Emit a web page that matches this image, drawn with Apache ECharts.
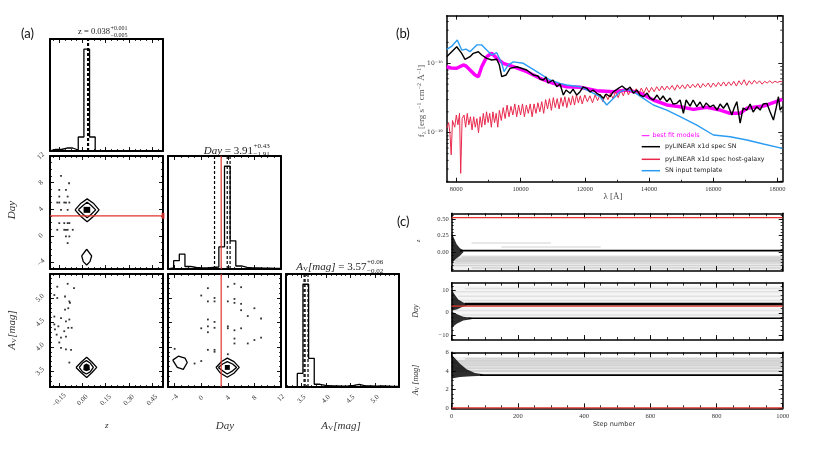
<!DOCTYPE html>
<html><head><meta charset="utf-8">
<script src="https://cdn.jsdelivr.net/npm/echarts@6/dist/echarts.min.js"></script>
<style>html,body{margin:0;padding:0;background:#fff}#c{width:814px;height:458px}</style>
</head><body><div id="c"></div>
<script>
// ================= DATA =================
// ---- corner plot (a) ----
const zRange = [-0.21, 0.52];
const dayRange = [-5, 12];
const avRange = [3.18, 5.49];
const zTickVals = [-0.15, 0.00, 0.15, 0.30, 0.45];
const dayTickVals = [-4, 0, 4, 8, 12];
const avTickVals = [3.5, 4.0, 4.5, 5.0];
const truthZ = 0.52;
const truthDay = 3;
const zHist = [1.5,1.5,3,3,1,14,102,14,0.4,0.3,0.3,0.3,0.3,0.3,0.3,0.3,0.3,0.3,0.3,0.3];
const dayHist = [1,8.3,14.7,2.5,1.5,1,1,1.5,2,22,102,28,3,1.5,1,1,0.8,0.8,0.5,0.5];
const avHist = [0.3,0.5,13.4,101.7,28.4,2.7,1.5,1,1,0.8,1,1.5,2.5,1.2,1,0.8,1,0.8,0.6,0.5];
const zQuantiles = [0.033, 0.038, 0.039];
const dayQuantiles = [2.00, 3.91, 4.34];
const avQuantiles = [3.55, 3.57, 3.63];
const zDayPoints = [[-0.139,9.0],[-0.087,7.9],[-0.15,6.9],[-0.107,6.9],[-0.15,5.9],[-0.096,5.9],[-0.163,5.0],[-0.15,5.0],[-0.118,5.0],[-0.107,5.0],[-0.085,5.0],[-0.139,3.9],[-0.096,3.9],[-0.15,1.9],[-0.118,1.9],[-0.096,1.9],[-0.085,1.9],[-0.163,0.9],[-0.118,0.9],[-0.107,0.9],[-0.096,0.9],[-0.063,0.9],[-0.107,-0.1],[-0.085,-0.1],[-0.096,-1.1]];
const zDayOuter = [[-0.048,3.9],[-0.01,4.9],[0.03,5.55],[0.07,4.9],[0.107,3.9],[0.07,2.9],[0.03,2.1],[-0.01,2.9],[-0.048,3.9]];
const zDayInner = [[-0.027,3.9],[0.005,4.6],[0.03,5.05],[0.055,4.6],[0.085,3.9],[0.055,3.2],[0.03,2.7],[0.005,3.2],[-0.027,3.9]];
const zDayCore = [[0.007,4.35],[0.05,4.35],[0.05,3.45],[0.007,3.45]];
const zDayLow = [[0.027,-2.03],[0.059,-3.04],[0.048,-3.89],[0.027,-4.39],[0.005,-3.89],[-0.005,-3.04],[0.027,-2.03]];
const zAvPoints = [[-0.163,5.23],[-0.096,5.29],[-0.055,5.20],[-0.182,5.06],[-0.113,5.03],[-0.085,4.93],[-0.081,4.90],[-0.163,5.0],[-0.092,4.79],[-0.113,4.76],[-0.182,4.62],[-0.139,4.59],[-0.107,4.52],[-0.085,4.56],[-0.182,4.46],[-0.156,4.42],[-0.118,4.32],[-0.092,4.39],[-0.07,4.39],[-0.167,4.25],[-0.139,4.19],[-0.107,4.21],[-0.15,4.09],[-0.139,3.98],[-0.107,3.95],[-0.074,3.94],[-0.085,3.68],[-0.178,4.36]];
const zAvOuter = [[-0.042,3.58],[-0.008,3.69],[0.027,3.79],[0.06,3.69],[0.092,3.58],[0.06,3.47],[0.027,3.375],[-0.008,3.47],[-0.042,3.58]];
const zAvInner = [[-0.021,3.58],[0.0,3.67],[0.025,3.72],[0.05,3.67],[0.07,3.58],[0.05,3.49],[0.025,3.445],[0.0,3.49],[-0.021,3.58]];
const zAvCore = [[0.008,3.63],[0.025,3.66],[0.045,3.63],[0.048,3.53],[0.025,3.50],[0.005,3.53]];
const dayAvPoints = [[1,5.20],[4,5.23],[5,5.29],[6,5.22],[0,5.05],[1,4.93],[2,5.0],[2,4.93],[4,4.93],[5,4.98],[5,4.90],[6,4.88],[6,4.75],[8,4.79],[9,4.58],[7,4.63],[1,4.56],[2,4.51],[1,4.42],[2,4.39],[1,4.30],[0,4.38],[4,4.42],[4,4.38],[5,4.34],[6,4.38],[5,4.17],[5,4.07],[7,4.07],[8,4.14],[9,4.19],[1,3.94],[2,3.94],[2,3.90],[4,3.85],[-1,3.66],[0,3.71],[-4,3.96]];
const dayAvOuter = [[2.22,3.58],[3.07,3.70],[3.92,3.77],[4.92,3.70],[5.72,3.58],[4.92,3.46],[3.92,3.38],[2.92,3.46],[2.22,3.58]];
const dayAvInner = [[2.57,3.58],[3.22,3.65],[3.92,3.70],[4.72,3.65],[5.32,3.58],[4.72,3.51],[3.92,3.445],[3.22,3.51],[2.57,3.58]];
const dayAvCore = [[3.55,3.63],[4.3,3.63],[4.3,3.53],[3.55,3.53]];
const dayAvLeft = [[-4.29,3.73],[-3.45,3.81],[-2.44,3.77],[-2.10,3.68],[-2.70,3.54],[-3.60,3.58],[-4.29,3.73]];

// ---- spectrum (b) flux in units of 1e-18 erg/s/cm2/A ----
const specXRange = [7700, 18150];
const specYRange = [0.0197, 4.85];
const specXTicks = [8000, 10000, 12000, 14000, 16000, 18000];
const specYMinor = [0.02,0.03,0.04,0.05,0.06,0.07,0.08,0.09,0.2,0.3,0.4,0.5,0.6,0.7,0.8,0.9,2,3,4];
const templateSpec = [[7700,1.59],[7850,1.75],[8030,2.17],[8167,1.55],[8300,1.60],[8426,1.47],[8635,1.84],[8790,1.84],[8946,1.55],[9102,1.32],[9258,1.42],[9413,1.00],[9485,0.76],[9619,0.95],[9775,1.05],[10086,1.00],[10504,0.76],[10918,0.575],[11229,0.515],[11438,0.487],[11852,0.46],[12164,0.39],[12475,0.33],[12684,0.251],[12840,0.296],[13098,0.39],[13307,0.422],[13513,0.39],[13824,0.313],[14136,0.251],[14553,0.212],[14968,0.17],[15488,0.129],[16005,0.0927],[16525,0.0876],[17045,0.0785],[17562,0.0687],[18154,0.0596]];
const bestFitSpec = [[7700,0.893],[7834,0.856],[8012,0.847],[8217,0.945],[8301,0.914],[8426,0.801],[8582,0.678],[8685,0.641],[8790,0.893],[8946,1.245],[9102,1.393],[9258,1.18],[9463,1.0],[9775,0.893],[10192,0.757],[10606,0.608],[11021,0.515],[11438,0.46],[11852,0.451],[12372,0.403],[12890,0.39],[13307,0.412],[13722,0.373],[14136,0.296],[14553,0.251],[14968,0.237],[15382,0.217],[15799,0.232],[16214,0.212],[16525,0.19],[16837,0.19],[17045,0.225],[17562,0.242],[18154,0.303]];
const snSpec = [[7700,1.245],[8012,1.734],[8167,1.393],[8270,1.142],[8426,1.245],[8529,1.393],[8685,1.469],[8790,1.317],[8946,1.18],[9102,1.116],[9258,1.142],[9339,0.945],[9413,0.641],[9547,0.678],[9672,0.847],[9881,0.893],[10192,0.801],[10398,0.678],[10544,0.656],[10606,0.594],[10709,0.575],[10793,0.635],[10856,0.52],[10918,0.525],[11011,0.575],[11127,0.46],[11229,0.503],[11332,0.349],[11416,0.412],[11541,0.37],[11634,0.426],[11750,0.349],[11852,0.39],[11946,0.456],[12061,0.436],[12164,0.386],[12257,0.412],[12372,0.37],[12475,0.349],[12578,0.313],[12662,0.361],[12787,0.33],[12880,0.386],[13045,0.436],[13161,0.471],[13307,0.412],[13410,0.456],[13513,0.37],[13628,0.412],[13722,0.349],[13824,0.33],[13940,0.373],[14033,0.316],[14136,0.296],[14251,0.349],[14345,0.296],[14438,0.338],[14553,0.28],[14656,0.316],[14749,0.259],[14865,0.265],[14968,0.296],[15071,0.19],[15155,0.296],[15280,0.242],[15373,0.296],[15488,0.237],[15591,0.277],[15685,0.227],[15778,0.268],[15902,0.235],[16005,0.251],[16121,0.212],[16214,0.259],[16317,0.225],[16432,0.268],[16578,0.18],[16650,0.227],[16734,0.28],[16837,0.137],[16930,0.227],[17045,0.212],[17148,0.259],[17242,0.199],[17357,0.237],[17460,0.212],[17553,0.259],[17668,0.265],[17771,0.199],[17874,0.152],[17958,0.227],[18030,0.33],[18082,0.212],[18154,0.237]];
const hostSpec = [[7700,0.116],[7760,0.14],[7800,0.10],[7840,0.048],[7880,0.15],[7950,0.12],[8000,0.18],[8050,0.13],[8100,0.19],[8136,0.026],[8180,0.16],[8240,0.18],[8290,0.12],[8340,0.19],[8390,0.13],[8440,0.17],[8490,0.11],[8540,0.17],[8590,0.12],[8640,0.16],[8690,0.10],[8740,0.17],[8790,0.12],[8840,0.19],[8890,0.13],[8940,0.20],[8990,0.14],[9040,0.19],[9090,0.12],[9140,0.20],[9190,0.14],[9240,0.19],[9290,0.12],[9340,0.21],[9400,0.15],[9460,0.23],[9520,0.16],[9580,0.25],[9640,0.17],[9700,0.24],[9760,0.18],[9820,0.26],[9880,0.17],[9940,0.25],[10000,0.18],[10060,0.26],[10120,0.17],[10180,0.25],[10240,0.19],[10300,0.26],[10360,0.17],[10420,0.26],[10480,0.19],[10540,0.27],[10600,0.20],[10660,0.28],[10720,0.19],[10780,0.30],[10840,0.22],[10900,0.31],[10960,0.21],[11020,0.32],[11080,0.23],[11140,0.31],[11200,0.22],[11260,0.32],[11320,0.24],[11380,0.33],[11440,0.23],[11500,0.32],[11560,0.25],[11620,0.34],[11680,0.25],[11740,0.35],[11800,0.27],[11860,0.34],[11920,0.26],[12000,0.35],[12080,0.28],[12160,0.34],[12240,0.27],[12320,0.35],[12400,0.29],[12480,0.36],[12560,0.28],[12640,0.36],[12720,0.30],[12800,0.37],[12880,0.31],[12960,0.39],[13040,0.32],[13120,0.41],[13200,0.34],[13280,0.43],[13360,0.35],[13440,0.44],[13520,0.37],[13600,0.43],[13680,0.36],[13760,0.44],[13840,0.37],[13920,0.45],[14000,0.38],[14080,0.45],[14160,0.39],[14240,0.46],[14320,0.40],[14400,0.47],[14480,0.41],[14560,0.47],[14640,0.42],[14720,0.48],[14800,0.41],[14880,0.49],[14960,0.43],[15040,0.49],[15120,0.43],[15200,0.50],[15280,0.44],[15360,0.50],[15440,0.45],[15520,0.51],[15600,0.44],[15680,0.51],[15760,0.46],[15840,0.52],[15920,0.45],[16000,0.52],[16080,0.46],[16160,0.53],[16240,0.47],[16320,0.54],[16400,0.47],[16480,0.54],[16560,0.48],[16640,0.55],[16720,0.47],[16800,0.56],[16880,0.49],[16960,0.58],[17040,0.48],[17120,0.56],[17200,0.50],[17280,0.57],[17360,0.51],[17440,0.56],[17520,0.50],[17600,0.55],[17680,0.52],[17760,0.56],[17840,0.52],[17920,0.55],[18000,0.53],[18080,0.55],[18150,0.54]];
const legendNames = ['best fit models', 'pyLINEAR x1d spec SN', 'pyLINEAR x1d spec host-galaxy', 'SN input template'];

// ---- MCMC traces (c) ----
const stepRange = [0, 1000];
const stepTicks = [0, 200, 400, 600, 800, 1000];
const zTraceRange = [-0.281, 0.586];
const zTraceTicks = [0.00, 0.25, 0.50];
const dayTraceRange = [-12.3, 13.6];
const dayTraceTicks = [-10, 0, 10];
const avTraceRange = [-0.05, 6.05];
const avTraceTicks = [0, 2, 4, 6];
const truthAv = 0;
const zBurst = [[0,0.29],[8,0.2],[15,0.12],[25,0.06],[35,0.03],[35,0.0],[25,-0.05],[12,-0.1],[0,-0.17]];
const dayBurstUp = [[0,10.4],[10,8],[20,6],[35,4.6],[45,4.2],[45,3.4],[30,2.5],[15,1.5],[0,1]];
const dayBurstLow = [[0,0.5],[15,-0.5],[35,-1.8],[60,-2.2],[60,-2.9],[35,-3.5],[15,-5],[0,-6.8]];
const avBurst = [[0,5.75],[10,5.4],[25,4.8],[45,4.2],[70,3.8],[95,3.65],[95,3.5],[60,3.45],[25,3.35],[0,3.2]];
const zBand = [[0,-0.04],[1000,-0.04],[1000,-0.281],[0,-0.281]];
const dayBand = [[0,12.2],[1000,12.2],[1000,-2.5],[0,-2.5]];
const avBand = [[0,5.55],[1000,5.55],[1000,3.62],[0,3.62]];
const zWalkers = [[30,1000,-0.07],[0,1000,-0.095],[0,1000,-0.115],[10,1000,-0.135],[0,1000,-0.16],[0,1000,-0.2],[60,1000,-0.235],[60,300,0.14],[150,450,0.08]];
const dayWalkers = [[0,1000,5.5],[20,1000,7.5],[0,1000,9.5],[40,1000,11.0],[0,1000,1.0],[30,1000,-1.0]];
const avWalkers = [[0,1000,4.0],[0,1000,4.3],[20,1000,4.6],[0,1000,4.85],[0,1000,5.1],[40,1000,5.35]];
const zConverged = [[25,0.025],[1000,0.025]];
const dayConverged = [[40,3.9],[1000,3.9]];
const dayLowChain = [[50,-2.5],[1000,-2.5]];
const avConverged = [[85,3.57],[1000,3.57]];

// ================= BUILD =================
const SERIF = "'Liberation Serif','DejaVu Serif',serif";
const DSERIF = "'DejaVu Serif',serif";
const SANS = "'DejaVu Sans',sans-serif";
const RED = '#e3332c';
const grids = [], xAxes = [], yAxes = [], series = [], graphics = [];
const minus = s => String(s).replace('-', '\u2212');
function ticksBetween(r, step) {
  const out = []; const k0 = Math.ceil(r[0] / step - 1e-9);
  for (let k = k0; k * step <= r[1] + 1e-9; k++) out.push(+(k * step).toFixed(6));
  return out;
}
function axisSet(dim, gi, pos, type, r, o) {
  const arr = dim === 'x' ? xAxes : yAxes;
  const idx = arr.length;
  const base = { gridIndex: gi, position: pos, type: type, min: r[0], max: r[1], splitLine: { show: false }, silent: true };
  if (type === 'log') base.logBase = 10;
  const tick = { show: !!(o.major || o.defaultTicks), inside: true, length: o.len || 4, lineStyle: { color: '#000', width: 0.9 } };
  if (o.major) tick.customValues = o.major;
  arr.push(Object.assign({}, base, {
    axisLine: { show: true, onZero: false, lineStyle: { color: '#000', width: o.lw || 1.5 } },
    axisTick: tick,
    axisLabel: o.labels ? Object.assign({ show: true }, o.labels) : { show: false }
  }));
  if (o.minor) arr.push(Object.assign({}, base, {
    axisLine: { show: false, onZero: false },
    axisTick: { show: true, inside: true, length: o.minLen || 2, customValues: o.minor, lineStyle: { color: '#000', width: 0.8 } },
    axisLabel: { show: false }
  }));
  return idx;
}
function panel(rect, xr, yr, xo, yo, lw, xType, yType) {
  const gi = grids.length;
  grids.push({ left: rect[0], top: rect[1], width: rect[2], height: rect[3], containLabel: false });
  const xi = axisSet('x', gi, 'bottom', xType || 'value', xr, Object.assign({ lw }, xo));
  axisSet('x', gi, 'top', xType || 'value', xr, Object.assign({ lw }, xo, { labels: null }));
  const yi = axisSet('y', gi, 'left', yType || 'value', yr, Object.assign({ lw }, yo));
  axisSet('y', gi, 'right', yType || 'value', yr, Object.assign({ lw }, yo, { labels: null }));
  return { xi, yi };
}
function line(p, data, color, width, extra) {
  series.push(Object.assign({ type: 'line', xAxisIndex: p.xi, yAxisIndex: p.yi, data, symbol: 'none', silent: true,
    lineStyle: { color, width }, animation: false, clip: true }, extra || {}));
}
function poly(p, pts, fill, z) {
  series.push({ type: 'custom', xAxisIndex: p.xi, yAxisIndex: p.yi, data: pts, silent: true, clip: true, z: z || 2,
    renderItem: (params, api) => params.dataIndex !== 0 ? null :
      { type: 'polygon', shape: { points: pts.map(q => api.coord(q)) }, style: { fill } } });
}
function scatter(p, pts, color, size) {
  series.push({ type: 'scatter', xAxisIndex: p.xi, yAxisIndex: p.yi, data: pts, symbol: 'rect', symbolSize: size || 1.8,
    itemStyle: { color }, silent: true, animation: false });
}
function hist(p, counts, r) {
  const n = counts.length, w = (r[1] - r[0]) / n;
  const d = [[r[0], 0]];
  counts.forEach((c, i) => d.push([r[0] + i * w, c]));
  d.push([r[1], counts[n - 1]], [r[1], 0]);
  line(p, d, '#000', 1.3, { step: 'end' });
}
function segs(p, data, color, width) {
  series.push({ type: 'custom', xAxisIndex: p.xi, yAxisIndex: p.yi, data, silent: true, clip: true,
    renderItem: (params, api) => {
      const a = api.coord([api.value(0), api.value(2)]), b = api.coord([api.value(1), api.value(2)]);
      return { type: 'line', shape: { x1: a[0], y1: a[1], x2: b[0], y2: b[1] }, style: { stroke: color, lineWidth: width } };
    } });
}
function txt(x, y, text, style, el) {
  graphics.push(Object.assign({ type: 'text', x, y, silent: true,
    style: Object.assign({ text, fill: '#222', fontFamily: SERIF, fontSize: 9, align: 'center', verticalAlign: 'middle' }, style || {}) }, el || {}));
}

// ---- corner ----
const cLab = (vals, fmt, m) => ({ customValues: vals, formatter: v => minus(fmt(v)), fontFamily: SERIF, fontSize: 7, color: '#333',
  rotate: 45, align: 'center', verticalAlign: 'middle', margin: m });
const zMinor = ticksBetween(zRange, 0.0375), dayMinor = ticksBetween(dayRange, 1), avMinor = ticksBetween(avRange, 0.1);
const C0 = 50, C1 = 168, C2 = 286, CW = 113;
const R0 = 39, R1 = 156, R2 = 274, RH = 113;
const zH = Math.max(...zHist) * 1.1, dH = Math.max(...dayHist) * 1.1, aH = Math.max(...avHist) * 1.1;
const pZ = panel([C0, R0, CW, RH - 1], zRange, [0, zH], { major: zTickVals, minor: zMinor }, {}, 2);
const pZD = panel([C0, R1, CW, RH], zRange, dayRange, { major: zTickVals, minor: zMinor }, { major: dayTickVals, minor: dayMinor, labels: cLab(dayTickVals, v => v.toFixed(0), 9) }, 2);
const pD = panel([C1, R1, CW, RH], dayRange, [0, dH], { major: dayTickVals, minor: dayMinor }, {}, 2);
const pZA = panel([C0, R2, CW, RH], zRange, avRange, { major: zTickVals, minor: zMinor, labels: cLab(zTickVals, v => v.toFixed(2), 13) }, { major: avTickVals, minor: avMinor, labels: cLab(avTickVals, v => v.toFixed(1), 10) }, 2);
const pDA = panel([C1, R2, CW, RH], dayRange, avRange, { major: dayTickVals, minor: dayMinor, labels: cLab(dayTickVals, v => v.toFixed(0), 11) }, { major: avTickVals, minor: avMinor }, 2);
const pA = panel([C2, R2, CW, RH], avRange, [0, aH], { major: avTickVals, minor: avMinor, labels: cLab(avTickVals, v => v.toFixed(1), 12) }, {}, 2);

hist(pZ, zHist, zRange);
zQuantiles.forEach(q => line(pZ, [[q, 0], [q, zH]], '#000', 1.2, { lineStyle: { color: '#000', width: 1.2, type: [3, 2] } }));
hist(pD, dayHist, dayRange);
dayQuantiles.forEach(q => line(pD, [[q, 0], [q, dH]], '#000', 1.2, { lineStyle: { color: '#000', width: 1.2, type: [3, 2] } }));
line(pD, [[truthDay, 0], [truthDay, dH]], RED, 1.2);
hist(pA, avHist, avRange);
avQuantiles.forEach(q => line(pA, [[q, 0], [q, aH]], '#000', 1.2, { lineStyle: { color: '#000', width: 1.2, type: [3, 2] } }));

scatter(pZD, zDayPoints, '#000');
[zDayOuter, zDayInner, zDayLow].forEach(c => line(pZD, c, '#000', 1.3));
poly(pZD, zDayCore, '#000');
line(pZD, [[zRange[0], truthDay], [truthZ, truthDay]], RED, 1.2);
series.push({ type: 'scatter', xAxisIndex: pZD.xi, yAxisIndex: pZD.yi, data: [[truthZ, truthDay]], symbol: 'rect', symbolSize: [3, 6], itemStyle: { color: RED }, silent: true, clip: false });

scatter(pZA, zAvPoints, '#000');
[zAvOuter, zAvInner].forEach(c => line(pZA, c, '#000', 1.3));
poly(pZA, zAvCore, '#000');

scatter(pDA, dayAvPoints, '#000');
[dayAvOuter, dayAvInner, dayAvLeft].forEach(c => line(pDA, c, '#000', 1.3));
poly(pDA, dayAvCore, '#000');
line(pDA, [[truthDay, avRange[0]], [truthDay, avRange[1]]], RED, 1.2);

// ---- spectrum ----
const sLab = { fontFamily: SERIF, fontSize: 6.5, color: '#333', formatter: v => String(v) };
const pS = panel([446.7, 15.7, 335.6, 166], specXRange, specYRange,
  { major: specXTicks, minor: ticksBetween(specXRange, 1000), labels: Object.assign({ customValues: specXTicks, margin: 4 }, sLab) },
  { defaultTicks: true, labels: { fontFamily: DSERIF, fontSize: 6, color: '#333', margin: 4, showMinLabel: false, showMaxLabel: false,
      formatter: v => Math.abs(Math.log10(v)) < 0.01 ? '10\u207B\u00B9\u2078' : (Math.abs(Math.log10(v) + 1) < 0.01 ? '10\u207B\u00B9\u2079' : '') } },
  1.5, 'value', 'log');
series.push({ type: 'custom', xAxisIndex: pS.xi, yAxisIndex: pS.yi, data: specYMinor.map(v => [v]), silent: true, clip: true,
  renderItem: (params, api) => {
    const a = api.coord([specXRange[0], api.value(0)]), b = api.coord([specXRange[1], api.value(0)]);
    return { type: 'group', children: [
      { type: 'line', shape: { x1: a[0], y1: a[1], x2: a[0] + 2, y2: a[1] }, style: { stroke: '#000', lineWidth: 0.8 } },
      { type: 'line', shape: { x1: b[0] - 2, y1: b[1], x2: b[0], y2: b[1] }, style: { stroke: '#000', lineWidth: 0.8 } }] };
  } });
const MAG = '#ff00ff', HOST = '#e8294d', BLUE = '#2b9cf2';
line(pS, bestFitSpec, MAG, 3.5);
line(pS, hostSpec, HOST, 1);
line(pS, templateSpec, BLUE, 1.4);
line(pS, snSpec, '#000', 1.4);

// ---- traces ----
const TL = 451.7, TW = 331;
function tracePanel(rect, yr, ticks, minorStep, fmt, lab) {
  const gi = grids.length;
  grids.push({ left: rect[0], top: rect[1], width: rect[2], height: rect[3], containLabel: false });
  const xo = { major: stepTicks, minor: ticksBetween(stepRange, 50), len: 5, minLen: 3,
    labels: lab ? Object.assign({ customValues: stepTicks, margin: 4 }, sLab) : null };
  const xi = axisSet('x', gi, 'bottom', 'value', stepRange, Object.assign({ lw: 1.5 }, xo));
  axisSet('x', gi, 'top', 'value', stepRange, Object.assign({ lw: 1.5 }, xo, { labels: null }));
  const minor = ticksBetween(yr, minorStep);
  const yi = axisSet('y', gi, 'left', 'value', yr, { lw: 1.5, major: ticks, minor, len: 4, minLen: 2,
    labels: { customValues: ticks, formatter: v => minus(fmt(v)), fontFamily: SERIF, fontSize: 6.5, color: '#333', margin: 3 } });
  axisSet('y', gi, 'right', 'value', yr, { lw: 1.5, major: ticks, minor, len: 4, minLen: 2 });
  return { xi, yi };
}
const pT1 = tracePanel([TL, 213.3, TW, 57.7], zTraceRange, zTraceTicks, 0.05, v => v.toFixed(2), false);
const pT2 = tracePanel([TL, 282.7, TW, 57.3], dayTraceRange, dayTraceTicks, 2, v => v.toFixed(0), false);
const pT3 = tracePanel([TL, 352.3, TW, 56], avTraceRange, avTraceTicks, 0.5, v => v.toFixed(0), true);
const WALK = 'rgba(0,0,0,0.12)', BAND = 'rgba(0,0,0,0.06)', BURST = 'rgba(0,0,0,0.82)';
poly(pT1, zBand, BAND, 1); segs(pT1, zWalkers, WALK, 1.5); poly(pT1, zBurst, BURST, 3);
line(pT1, zConverged, '#000', 1.6); line(pT1, [[0, truthZ], [1000, truthZ]], RED, 1.3);
poly(pT2, dayBand, 'rgba(0,0,0,0.04)', 1); segs(pT2, dayWalkers, 'rgba(0,0,0,0.08)', 1.5); poly(pT2, dayBurstUp, BURST, 3); poly(pT2, dayBurstLow, BURST, 3);
line(pT2, dayConverged, '#000', 2.6); line(pT2, dayLowChain, '#000', 1.6); line(pT2, [[0, truthDay], [1000, truthDay]], RED, 1.3);
poly(pT3, avBand, BAND, 1); segs(pT3, avWalkers, WALK, 2); poly(pT3, avBurst, BURST, 3);
line(pT3, avConverged, '#000', 1.8); line(pT3, [[0, truthAv], [1000, truthAv]], RED, 1.3);

// ---- texts ----
const LAB = { fontFamily: "Lato,'Open Sans',sans-serif", fontSize: 13, fill: '#111', align: 'left' };
txt(21, 34, '(a)', LAB); txt(396, 34, '(b)', LAB); txt(397, 222, '(c)', LAB);
const IT = { fontStyle: 'italic' };
// titles
txt(110, 32, 'z = 0.038', { align: 'right', fontSize: 8.5 });
txt(110.5, 28.5, '+0.001', { align: 'left', fontSize: 6 });
txt(110.5, 35.5, '\u22120.005', { align: 'left', fontSize: 6 });
txt(253, 151, '', { align: 'right', fontSize: 11, text: '{i|Day} = 3.91', rich: { i: { fontStyle: 'italic', fontFamily: SERIF, fontSize: 11, fill: '#222' } } });
txt(253.5, 146, '+0.43', { align: 'left', fontSize: 7 });
txt(253.5, 154.5, '\u22121.91', { align: 'left', fontSize: 7 });
txt(366.5, 267.5, '', { align: 'right', fontSize: 11, text: '{i|A}{s|V}{n|[mag]} = 3.57',
  rich: { i: { fontStyle: 'italic', fontFamily: SERIF, fontSize: 11, fill: '#222' }, s: { fontFamily: SERIF, fontSize: 7, fill: '#222', padding: [4, 0, 0, 0] }, n: { fontStyle: 'italic', fontFamily: SERIF, fontSize: 11, fill: '#222' } } });
txt(367, 262.5, '+0.06', { align: 'left', fontSize: 7 });
txt(367, 271, '\u22120.02', { align: 'left', fontSize: 7 });
// axis labels
const avRich = (fs) => ({ i: { fontStyle: 'italic', fontFamily: SERIF, fontSize: fs, fill: '#333' }, s: { fontFamily: SERIF, fontSize: fs * 0.65, fill: '#333', padding: [fs * 0.35, 0, 0, 0] } });
txt(106.7, 426, 'z', Object.assign({ fontSize: 9, fill: '#333' }, IT));
txt(225, 426, 'Day', Object.assign({ fontSize: 11, fill: '#333' }, IT));
txt(341, 426, '', { text: '{i|A}{s|V}{i|[mag]}', rich: avRich(11) });
txt(12.5, 210, 'Day', Object.assign({ fontSize: 11, fill: '#333' }, IT), { rotation: Math.PI / 2 });
txt(12.5, 330, '', { text: '{i|A}{s|V}{i|[mag]}', rich: avRich(11) }, { rotation: Math.PI / 2 });
// trace labels
txt(418, 241, 'z', Object.assign({ fontSize: 7, fill: '#444' }, IT), { rotation: Math.PI / 2 });
txt(416, 311, 'Day', Object.assign({ fontSize: 8, fill: '#444' }, IT), { rotation: Math.PI / 2 });
txt(416, 380, '', { text: '{i|A}{s|V}{i| [mag]}', rich: avRich(8) }, { rotation: Math.PI / 2 });
txt(614, 424, 'Step number', { fontFamily: SANS, fontSize: 6.5, fill: '#333' });
// spectrum labels
txt(422, 101, '', { text: '{i|f}{s|\u03BB} {i|[erg s}{p|\u22121}{i| cm}{p|\u22122}{i| \u00C5}{p|\u22121}{i|]}',
  rich: { i: { fontFamily: SERIF, fontSize: 9, fill: '#555' }, s: { fontFamily: SERIF, fontSize: 6, fill: '#555', padding: [4, 0, 0, 0] }, p: { fontFamily: SERIF, fontSize: 6, fill: '#555', padding: [0, 0, 5, 0] } } }, { rotation: Math.PI / 2 });
txt(613, 197, '\u03BB [\u00C5]', { fontSize: 9, fill: '#444' });
// legend
const legColors = [MAG, '#000', HOST, BLUE];
const legY = [135.7, 146.7, 159.3, 170.7];
legendNames.forEach((name, i) => {
  const x1 = 641.7, x2 = i === 0 ? 649.5 : 660;
  graphics.push({ type: 'line', silent: true, shape: { x1, y1: legY[i], x2, y2: legY[i] }, style: { stroke: legColors[i], lineWidth: i === 0 ? 1 : 1.5 } });
  txt(i === 0 ? 652.5 : 665, legY[i], name, { fontFamily: SANS, fontSize: 6.3, fill: i === 0 ? MAG : '#222', align: 'left' });
});

const chart = echarts.init(document.getElementById('c'), null, { renderer: 'canvas', width: 814, height: 458 });
chart.setOption({ animation: false, backgroundColor: '#fff', grid: grids, xAxis: xAxes, yAxis: yAxes, series, graphic: graphics });
</script></body></html>
